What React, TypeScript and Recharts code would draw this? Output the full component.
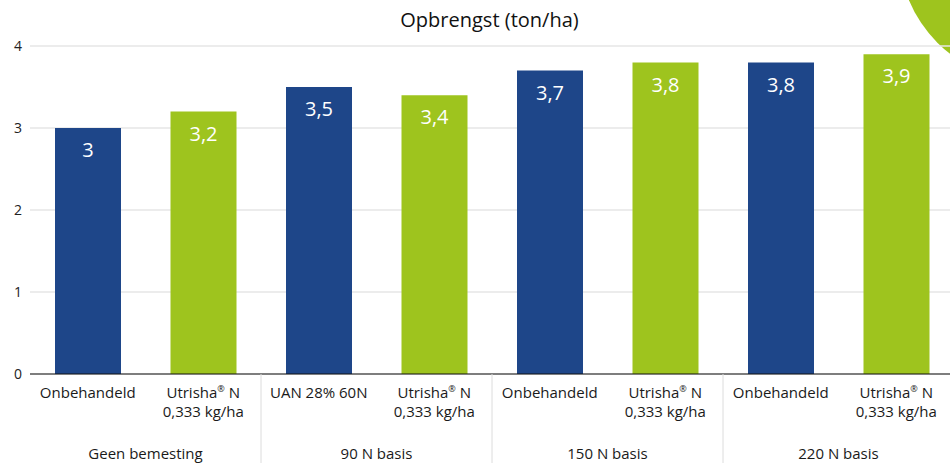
import React from 'react';
import { BarChart, Bar, XAxis, YAxis, CartesianGrid, Cell, LabelList } from 'recharts';

const treatments = ['Onbehandeld', 'Utrisha® N', 'UAN 28% 60N', 'Utrisha® N', 'Onbehandeld', 'Utrisha® N', 'Onbehandeld', 'Utrisha® N'];
const doses = ['', '0,333 kg/ha', '', '0,333 kg/ha', '', '0,333 kg/ha', '', '0,333 kg/ha'];
const groups = ['Geen bemesting', '90 N basis', '150 N basis', '220 N basis'];
const yields = [3, 3.2, 3.5, 3.4, 3.7, 3.8, 3.8, 3.9];
const yTicks = [0, 1, 2, 3, 4];

const BLUE = '#1e4689';
const GREEN = '#9ec41e';
const FONT = '"Open Sans", sans-serif';

const data = treatments.map((t, i) => ({ id: i, treatment: t, dose: doses[i], value: yields[i] }));

const fmt = (v: any) => String(v).replace('.', ',');

const Label1 = ({ text, x, y }: { text: string; x: number; y: number }) => {
  const parts = text.split('®');
  if (parts.length === 1) {
    return <text x={x} y={y} textAnchor="middle" fontSize={15} fill="#1a1a1a" fontFamily={FONT}>{text}</text>;
  }
  return (
    <text x={x} y={y} textAnchor="middle" fontSize={15} fill="#1a1a1a" fontFamily={FONT}>
      {parts[0]}
      <tspan fontSize={9} dy={-6}>®</tspan>
      <tspan dy={6}>{parts[1]}</tspan>
    </text>
  );
};

const CategoryTick = (props: any) => {
  const { x, y, payload } = props;
  const idx = props.index ?? payload.index;
  const half = payload.offset || 57.75;
  const row = data[idx];
  return (
    <g>
      <Label1 text={row.treatment} x={x} y={y + 24} />
      {row.dose && (
        <text x={x} y={y + 43} textAnchor="middle" fontSize={15} fill="#1a1a1a" fontFamily={FONT}>{row.dose}</text>
      )}
      {idx % 2 === 0 && idx > 0 && (
        <line x1={x - half} x2={x - half} y1={y} y2={y + 100} stroke="#dcdcdc" strokeWidth={1} />
      )}
      {idx % 2 === 0 && (
        <text x={x + half} y={y + 85} textAnchor="middle" fontSize={15} fill="#1a1a1a" fontFamily={FONT}>
          {groups[idx / 2]}
        </text>
      )}
    </g>
  );
};

export default function App() {
  return (
    <div style={{ position: 'absolute', left: 0, top: 0, width: 950, height: 463, overflow: 'hidden', background: '#fff' }}>
      <div style={{ position: 'absolute', left: 1030 - 131, top: -50 - 131, width: 262, height: 262, borderRadius: '50%', background: GREEN }} />
      <div style={{ position: 'absolute', left: 0, width: 979, top: 6, textAlign: 'center', fontFamily: FONT, fontSize: 20, color: '#111' }}>
        Opbrengst (ton/ha)
      </div>
      <div style={{ position: 'absolute', left: 0, top: 0 }}>
        <BarChart width={954} height={463} data={data} margin={{ top: 46, right: 0, bottom: 0, left: 0 }}>
          <CartesianGrid vertical={false} stroke="#e6e6e6" strokeWidth={1.5} />
          <YAxis
            width={30}
            domain={[0, 4]}
            ticks={yTicks}
            axisLine={false}
            tickLine={false}
            tick={{ fill: '#222', fontSize: 14, fontFamily: FONT }}
          />
          <XAxis
            dataKey="id"
            interval={0}
            height={89}
            tickSize={0}
            tickMargin={0}
            tickLine={false}
            axisLine={{ stroke: '#111' }}
            tick={<CategoryTick />}
          />
          <Bar dataKey="value" barSize={66} isAnimationActive={false}>
            {data.map((d, i) => (
              <Cell key={d.id} fill={i % 2 === 0 ? BLUE : GREEN} />
            ))}
            <LabelList dataKey="value" position="insideTop" offset={15} fill="#fff" fontSize={20} fontFamily={FONT} formatter={fmt} />
          </Bar>
        </BarChart>
      </div>
    </div>
  );
}
